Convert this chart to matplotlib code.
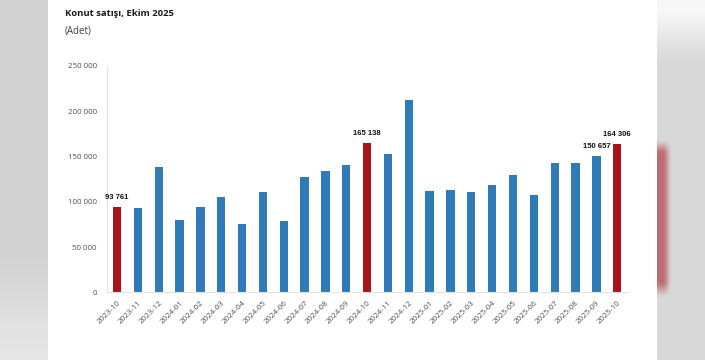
import matplotlib
matplotlib.use("Agg")
import matplotlib.pyplot as plt
from matplotlib.ticker import FuncFormatter
import numpy as np

categories = ["2023-10", "2023-11", "2023-12", "2024-01", "2024-02", "2024-03",
              "2024-04", "2024-05", "2024-06", "2024-07", "2024-08", "2024-09",
              "2024-10", "2024-11", "2024-12", "2025-01", "2025-02", "2025-03",
              "2025-04", "2025-05", "2025-06", "2025-07", "2025-08", "2025-09",
              "2025-10"]
values = [93761, 93500, 138100, 80200, 93800, 105300,
          75500, 110500, 79100, 127100, 133700, 140700,
          165138, 152500, 212200, 111900, 112700, 110700,
          118200, 129600, 107500, 142500, 143000, 150657,
          164306]
highlight = ["2023-10", "2024-10", "2025-10"]
labelled = ["2023-10", "2024-10", "2025-09", "2025-10"]
title = "Konut satışı, Ekim 2025"
subtitle = "(Adet)"
yticks = [0, 50000, 100000, 150000, 200000, 250000]

W, H = 705, 360
fig = plt.figure(figsize=(W / 100, H / 100), dpi=100)
fig.patch.set_facecolor("white")


def smoothstep(t):
    t = np.clip(t, 0, 1)
    return t * t * (3 - 2 * t)


# --- decorative blurred page sides ---
yy = np.arange(H)[:, None].astype(float)
# left strip
lw = 48
lg = 0.83 + 0.07 * smoothstep((yy - 250) / 110)
left = np.repeat(np.repeat(lg[..., None], lw, axis=1), 3, axis=2)
axl = fig.add_axes([0, 0, lw / W, 1])
axl.imshow(left, aspect="auto", extent=(0, 1, 0, 1), origin="upper")
axl.axis("off")
# right strip
rw = W - 657
xx = np.arange(rw)[None, :].astype(float)
g = 0.97 - (0.97 - 0.85) * smoothstep((yy - 5) / 60)
right = np.repeat(np.repeat(g[..., None], rw, axis=1), 3, axis=2)
red = np.array([0.74, 0.42, 0.44])
mask = (smoothstep((yy - 138) / 16) * (1 - smoothstep((yy - 280) / 18))
        * (1 - smoothstep((xx - 5) / 10)))
right = right * (1 - mask[..., None]) + red[None, None, :] * mask[..., None]
axr = fig.add_axes([657 / W, 0, rw / W, 1])
axr.imshow(right, aspect="auto", extent=(0, 1, 0, 1), origin="upper")
axr.axis("off")

# --- chart ---
ax = fig.add_axes([106.7 / W, 1 - 292.3 / H, (627.6 - 106.7) / W, (292.3 - 66) / H])
ax.set_facecolor("none")

x = np.arange(len(categories))
colors = ["#a6151c" if c in highlight else "#2e7bb8" for c in categories]
ax.bar(x, values, width=0.4, color=colors, edgecolor="none", zorder=2)

for i, (c, v) in enumerate(zip(categories, values)):
    if c in labelled:
        ax.annotate(f"{v:,}".replace(",", " "), xy=(i, v), xytext=(0, 8),
                    textcoords="offset pixels", ha="center", va="baseline",
                    fontsize=5.5, fontweight="bold", family="Liberation Sans",
                    color="#111111")

ax.set_xlim(-0.5, len(categories) - 0.5)
ax.set_ylim(0, 250000)
ax.set_yticks(yticks)
ax.yaxis.set_major_formatter(FuncFormatter(lambda v, p: f"{int(v):,}".replace(",", " ")))
ax.set_xticks(x)
ax.set_xticklabels(categories, rotation=45, ha="right", rotation_mode="anchor")
ax.tick_params(axis="both", length=0, labelsize=5.7, labelcolor="#505050")
ax.tick_params(axis="y", pad=7)
ax.tick_params(axis="x", pad=5)
for lab in ax.get_xticklabels() + ax.get_yticklabels():
    lab.set_family("Open Sans")

for s in ["top", "right"]:
    ax.spines[s].set_visible(False)
ax.spines["left"].set_color("#e3e3e3")
ax.spines["bottom"].set_color("#e3e3e3")
ax.spines["left"].set_linewidth(0.8)
ax.spines["bottom"].set_linewidth(0.8)

fig.text(65 / W, 1 - 13 / H, title, fontsize=6.8, fontweight="bold", family="Open Sans",
         color="#1a1a1a", va="center", ha="left")
fig.text(65 / W, 1 - 31 / H, subtitle, fontsize=7.0, family="Open Sans",
         color="#404040", va="center", ha="left")

fig.savefig("out.png", dpi=100)
